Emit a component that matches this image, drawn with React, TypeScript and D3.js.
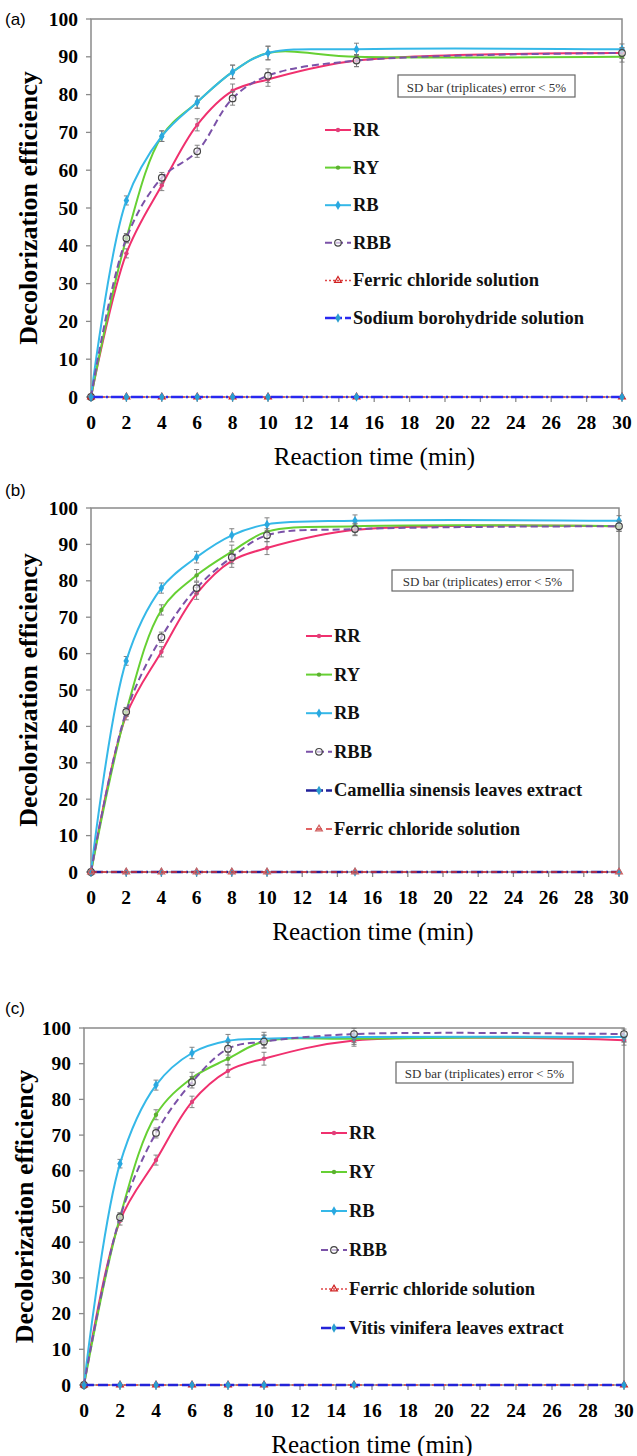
import React from 'react';
import * as d3 from 'd3';

// reaction time points (min)
const times = [0, 2, 4, 6, 8, 10, 15, 30];
const xTicks = d3.range(0, 31, 2);
const yTicks = d3.range(0, 101, 10);
const sd = [0, 1.2, 1.4, 1.6, 1.8, 1.8, 1.6, 1.4];

// panel (a)
const rrA = [0, 38, 56, 72, 81, 84, 89, 91];
const ryA = [0, 42, 69, 78, 86, 91, 90, 90];
const rbA = [0, 52, 69, 78, 86, 91, 92, 92];
const rbbA = [0, 42, 58, 65, 79, 85, 89, 91];
const ferricA = [0, 0, 0, 0, 0, 0, 0, 0];
const sodiumA = [0, 0, 0, 0, 0, 0, 0, 0];

// panel (b)
const rrB = [0, 43, 60.5, 76.5, 85.5, 89, 94, 95];
const ryB = [0, 44, 72, 81.5, 88, 93.5, 95, 95];
const rbB = [0, 58, 78, 86.5, 92.5, 95.5, 96.5, 96.5];
const rbbB = [0, 44, 64.5, 78, 86.5, 92.5, 94.2, 95];
const camelliaB = [0, 0, 0, 0, 0, 0, 0, 0];
const ferricB = [0, 0, 0, 0, 0, 0, 0, 0];

// panel (c)
const rrC = [0, 46, 63, 79.3, 88, 91.4, 96.5, 96.6];
const ryC = [0, 47, 75.7, 86, 91.4, 96.2, 97, 97.5];
const rbC = [0, 62, 84, 93, 96.4, 97, 97.5, 97.5];
const rbbC = [0, 47, 70.6, 84.8, 94.2, 96.2, 98.3, 98.3];
const ferricC = [0, 0, 0, 0, 0, 0, 0, 0];
const vitisC = [0, 0, 0, 0, 0, 0, 0, 0];

const SERIF = '"Liberation Serif", "Times New Roman", serif';
const SANS = '"Liberation Sans", Arial, sans-serif';

type Series = {
  name: string;
  values: number[];
  color: string;
  dash?: string;
  width: number;
  marker: 'dot' | 'diamond' | 'hollow' | 'triangle';
  markerColor: string;
  err: boolean;
};

const RR = (v: number[]): Series => ({ name: 'RR', values: v, color: '#f0306e', width: 2, marker: 'dot', markerColor: '#e0407a', err: true });
const RY = (v: number[]): Series => ({ name: 'RY', values: v, color: '#66d033', width: 2, marker: 'dot', markerColor: '#5cb030', err: true });
const RB = (v: number[]): Series => ({ name: 'RB', values: v, color: '#35b8e8', width: 2, marker: 'diamond', markerColor: '#2aa8e0', err: true });
const RBB = (v: number[]): Series => ({ name: 'RBB', values: v, color: '#7b52a8', dash: '7,4', width: 2, marker: 'hollow', markerColor: '#444', err: true });

const panels = [
  {
    label: '(a)', labelY: 21, top: 19, bottom: 397, left: 91, right: 622, titleX: 28,
    sdBox: [398, 75, 177, 22],
    legend: { x: 325, y0: 130, step: 37.6 },
    series: [
      RR(rrA), RY(ryA), RB(rbA), RBB(rbbA),
      { name: 'Ferric chloride solution', values: ferricA, color: '#e04848', dash: '2,2', width: 1.5, marker: 'triangle', markerColor: '#d02020', err: false },
      { name: 'Sodium borohydride solution', values: sodiumA, color: '#2828f0', dash: '12,3,2,3', width: 2.5, marker: 'diamond', markerColor: '#2a9ed0', err: false },
    ] as Series[],
  },
  {
    label: '(b)', labelY: 492, top: 508, bottom: 872, left: 91, right: 619, titleX: 28,
    sdBox: [392, 570, 181, 21],
    legend: { x: 306, y0: 636, step: 38.6 },
    series: [
      RR(rrB), RY(ryB), RB(rbB), RBB(rbbB),
      { name: 'Camellia sinensis leaves extract', values: camelliaB, color: '#20209a', dash: '12,3,2,3', width: 2.5, marker: 'diamond', markerColor: '#2a9ed0', err: false },
      { name: 'Ferric chloride solution', values: ferricB, color: '#d83030', dash: '6,4', width: 1.5, marker: 'triangle', markerColor: '#d06060', err: false },
    ] as Series[],
  },
  {
    label: '(c)', labelY: 1010, top: 1028, bottom: 1385, left: 84, right: 624, titleX: 24,
    sdBox: [396, 1062, 177, 21],
    legend: { x: 321, y0: 1133, step: 39 },
    series: [
      RR(rrC), RY(ryC), RB(rbC), RBB(rbbC),
      { name: 'Ferric chloride solution', values: ferricC, color: '#e04848', dash: '2,2', width: 1.5, marker: 'triangle', markerColor: '#d02020', err: false },
      { name: 'Vitis vinifera leaves extract', values: vitisC, color: '#2323d8', dash: '10,4', width: 2.5, marker: 'diamond', markerColor: '#2a9ed0', err: false },
    ] as Series[],
  },
];

function Marker({ kind, cx, cy, color }: { kind: Series['marker']; cx: number; cy: number; color: string }) {
  if (kind === 'dot') return <circle cx={cx} cy={cy} r={2.2} fill={color} />;
  if (kind === 'hollow') return <circle cx={cx} cy={cy} r={3.3} fill="#fff" fillOpacity={0.6} stroke={color} strokeWidth={1.2} />;
  if (kind === 'diamond') {
    const p = d3.symbol(d3.symbolDiamond, 26)();
    return <path d={p || ''} transform={`translate(${cx},${cy})`} fill={color} />;
  }
  const p = d3.symbol(d3.symbolTriangle, 20)();
  return <path d={p || ''} transform={`translate(${cx},${cy})`} fill="none" stroke={color} strokeWidth={1.2} />;
}

function Panel({ cfg }: { cfg: (typeof panels)[number] }) {
  const x = d3.scaleLinear().domain([0, 30]).range([cfg.left, cfg.right]);
  const y = d3.scaleLinear().domain([0, 100]).range([cfg.bottom, cfg.top]);
  const line = d3
    .line<number>()
    .x((_, i) => x(times[i]))
    .y((d) => y(d))
    .curve(d3.curveCatmullRom.alpha(0.5));
  const axisColor = '#8a8a8a';
  const mainSeries = cfg.series.filter((s) => s.err);
  const zeroSeries = cfg.series.filter((s) => !s.err);
  const midY = (cfg.top + cfg.bottom) / 2;
  const midX = (cfg.left + cfg.right) / 2 + 18;

  return (
    <g>
      <text x={5} y={cfg.labelY} fontFamily={SANS} fontSize={17} dominantBaseline="middle">
        {cfg.label}
      </text>
      {/* frame */}
      <rect x={cfg.left} y={cfg.top} width={cfg.right - cfg.left} height={cfg.bottom - cfg.top} fill="none" stroke={axisColor} strokeWidth={1.5} />
      {/* y ticks */}
      {yTicks.map((t) => (
        <g key={`y${t}`}>
          <line x1={cfg.left - 5} x2={cfg.left} y1={y(t)} y2={y(t)} stroke={axisColor} strokeWidth={1.3} />
          <text x={cfg.left - 13} y={y(t)} textAnchor="end" dominantBaseline="central" fontFamily={SERIF} fontWeight="bold" fontSize={19.5}>
            {t}
          </text>
        </g>
      ))}
      {/* x ticks */}
      {xTicks.map((t) => (
        <g key={`x${t}`}>
          <line x1={x(t)} x2={x(t)} y1={cfg.bottom} y2={cfg.bottom + 5} stroke={axisColor} strokeWidth={1.3} />
          <text x={x(t)} y={cfg.bottom + 25} textAnchor="middle" dominantBaseline="central" fontFamily={SERIF} fontWeight="bold" fontSize={19.5}>
            {t}
          </text>
        </g>
      ))}
      <text x={midX} y={cfg.bottom + 59} textAnchor="middle" dominantBaseline="central" fontFamily={SERIF} fontSize={25}>
        Reaction time (min)
      </text>
      <text
        transform={`translate(${cfg.titleX},${midY}) rotate(-90)`}
        textAnchor="middle"
        dominantBaseline="central"
        fontFamily={SERIF}
        fontWeight="bold"
        fontSize={26}
      >
        Decolorization efficiency
      </text>
      {/* SD box */}
      <rect x={cfg.sdBox[0]} y={cfg.sdBox[1]} width={cfg.sdBox[2]} height={cfg.sdBox[3]} fill="#fff" stroke="#666" strokeWidth={1.2} />
      <text x={cfg.sdBox[0] + cfg.sdBox[2] / 2} y={cfg.sdBox[1] + cfg.sdBox[3] / 2 + 1} textAnchor="middle" dominantBaseline="central" fontFamily={SERIF} fontSize={13} fill="#333">
        SD bar (triplicates) error &lt; 5%
      </text>
      {/* main series */}
      {mainSeries.map((s) => (
        <g key={s.name}>
          {s.values.map((v, i) =>
            i === 0 ? null : (
              <g key={i} stroke="#777" strokeWidth={0.9}>
                <line x1={x(times[i])} x2={x(times[i])} y1={y(v - sd[i])} y2={y(v + sd[i])} />
                <line x1={x(times[i]) - 2.5} x2={x(times[i]) + 2.5} y1={y(v - sd[i])} y2={y(v - sd[i])} />
                <line x1={x(times[i]) - 2.5} x2={x(times[i]) + 2.5} y1={y(v + sd[i])} y2={y(v + sd[i])} />
              </g>
            )
          )}
          <path d={line(s.values) || ''} fill="none" stroke={s.color} strokeWidth={s.width} strokeDasharray={s.dash} />
          {s.values.map((v, i) => (
            <Marker key={i} kind={s.marker} cx={x(times[i])} cy={y(v)} color={s.markerColor} />
          ))}
        </g>
      ))}
      {/* zero-line series */}
      {zeroSeries.map((s) => (
        <g key={s.name}>
          <path d={line(s.values) || ''} fill="none" stroke={s.color} strokeWidth={s.width} strokeDasharray={s.dash} />
          {s.values.map((v, i) => (
            <Marker key={i} kind={s.marker} cx={x(times[i])} cy={y(v)} color={s.markerColor} />
          ))}
        </g>
      ))}
      {/* legend */}
      {cfg.series.map((s, i) => {
        const ly = cfg.legend.y0 + i * cfg.legend.step;
        const lx = cfg.legend.x;
        return (
          <g key={`lg${s.name}`}>
            <line x1={lx} x2={lx + 26} y1={ly} y2={ly} stroke={s.color} strokeWidth={s.width} strokeDasharray={s.dash} />
            <Marker kind={s.marker} cx={lx + 13} cy={ly} color={s.markerColor} />
            <text x={lx + 28} y={ly} dominantBaseline="central" fontFamily={SERIF} fontWeight="bold" fontSize={18.5} fill="#111">
              {s.name}
            </text>
          </g>
        );
      })}
    </g>
  );
}

export default function App() {
  return (
    <svg width={637} height={1456} style={{ position: 'absolute', left: 0, top: 0, background: '#fff' }}>
      <rect width={637} height={1456} fill="#fff" />
      {panels.map((p) => (
        <Panel key={p.label} cfg={p} />
      ))}
    </svg>
  );
}
